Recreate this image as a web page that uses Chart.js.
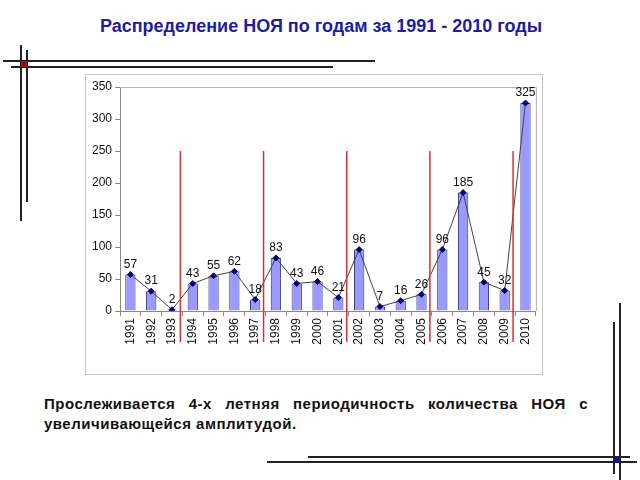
<!DOCTYPE html>
<html>
<head>
<meta charset="utf-8">
<script src="https://cdn.jsdelivr.net/npm/chart.js@4"></script>
<style>
  body { margin: 0; width: 640px; height: 480px; background: #fff; position: relative; overflow: hidden; font-family: "Liberation Sans", Arial, sans-serif; }
  .title { position: absolute; left: 0; width: 642px; top: 16px; text-align: center; font-weight: bold; font-size: 18px; color: #1c1ca4; }
  .box { position: absolute; left: 85px; top: 74px; width: 456px; height: 299px; border: 1px solid #c4c4c4; }
  .note { position: absolute; left: 44px; top: 394px; width: 544px; font-weight: bold; font-size: 15px; letter-spacing: 0.5px; line-height: 20px; color: #111; text-align: justify; text-align-last: left; }
  .ln { position: absolute; background: #222; }
</style>
</head>
<body>
<div class="title">Распределение НОЯ по годам за 1991 - 2010 годы</div>

<!-- decorative lines, top left -->
<div class="ln" style="left:3px;top:60px;width:372px;height:2px"></div>
<div class="ln" style="left:11px;top:66px;width:322px;height:2px"></div>
<div class="ln" style="left:20px;top:45px;width:2px;height:176px"></div>
<div class="ln" style="left:26px;top:50px;width:2px;height:152px"></div>
<div class="ln" style="left:21px;top:61px;width:6px;height:6px;background:#9b1010"></div>

<!-- decorative lines, bottom right -->
<div class="ln" style="left:308px;top:456px;width:322px;height:2px"></div>
<div class="ln" style="left:267px;top:461px;width:370px;height:2px"></div>
<div class="ln" style="left:613px;top:322px;width:2px;height:152px"></div>
<div class="ln" style="left:619px;top:303px;width:2px;height:177px"></div>
<div class="ln" style="left:614px;top:457px;width:6px;height:6px;background:#1010a0"></div>

<div class="box"><canvas id="chart" width="456" height="299"></canvas></div>

<div class="note">Прослеживается 4-х летняя периодичность количества НОЯ с увеличивающейся амплитудой.</div>

<script>
const years = ["1991", "1992", "1993", "1994", "1995", "1996", "1997", "1998", "1999", "2000",
  "2001", "2002", "2003", "2004", "2005", "2006", "2007", "2008", "2009", "2010"];
const counts = [57, 31, 2, 43, 55, 62, 18, 83, 43, 46, 21, 96, 7, 16, 26, 96, 185, 45, 32, 325];
const yTicks = [0, 50, 100, 150, 200, 250, 300, 350];
// red separators go after these years, up to this value
const periodEnds = ["1993", "1997", "2001", "2005", "2009"];
const periodTop = 250;

const FONT = "'Liberation Sans', Arial, sans-serif";

// frame round plot area + red period lines
const framePlugin = {
  id: "frame",
  afterDatasetsDraw(chart) {
    const ctx = chart.ctx;
    const a = chart.chartArea;
    const x = chart.scales.x;
    const y = chart.scales.y;
    ctx.save();
    ctx.strokeStyle = "#b0b0b0";
    ctx.lineWidth = 1;
    ctx.beginPath();
    ctx.moveTo(a.left, a.top + 0.5);
    ctx.lineTo(a.right + 0.5, a.top + 0.5);
    ctx.lineTo(a.right + 0.5, a.bottom);
    ctx.stroke();

    ctx.strokeStyle = "#d83030";
    ctx.lineWidth = 1.5;
    periodEnds.forEach((yr) => {
      const i = years.indexOf(yr);
      const px = (x.getPixelForValue(i) + x.getPixelForValue(i + 1)) / 2 - 2;
      ctx.beginPath();
      ctx.moveTo(px, y.getPixelForValue(periodTop));
      ctx.lineTo(px, a.bottom + 31);
      ctx.stroke();
    });
    ctx.restore();
  },
};

// value labels above line points
const labelPlugin = {
  id: "valueLabels",
  afterDatasetsDraw(chart) {
    const ctx = chart.ctx;
    const meta = chart.getDatasetMeta(1);
    ctx.save();
    ctx.font = "12px " + FONT;
    ctx.fillStyle = "#111";
    ctx.textAlign = "center";
    ctx.textBaseline = "bottom";
    meta.data.forEach((pt, i) => {
      ctx.fillText(String(counts[i]), pt.x, pt.y - 4);
    });
    ctx.restore();
  },
};

new Chart(document.getElementById("chart"), {
  data: {
    labels: years,
    datasets: [
      {
        type: "bar",
        data: counts,
        backgroundColor: "#9999ff",
        borderColor: "#3a3a78",
        borderWidth: 1,
        barPercentage: 0.9,
        categoryPercentage: 0.55,
        order: 2,
      },
      {
        type: "line",
        data: counts,
        borderColor: "#444",
        borderWidth: 1,
        pointStyle: "rectRot",
        pointRadius: 3,
        pointBackgroundColor: "#000080",
        pointBorderColor: "#000080",
        tension: 0,
        order: 1,
      },
    ],
  },
  options: {
    responsive: false,
    animation: false,
    devicePixelRatio: 1,
    layout: { padding: { top: 12, right: 5, left: 0, bottom: 0 } },
    plugins: { legend: { display: false }, tooltip: { enabled: false } },
    scales: {
      x: {
        offset: true,
        afterFit: (s) => { s.height = 63; },
        grid: { offset: true, drawOnChartArea: false, tickLength: 5, color: "#888" },
        border: { color: "#888" },
        ticks: {
          maxRotation: 90,
          minRotation: 90,
          autoSkip: false,
          padding: 2,
          color: "#111",
          font: { size: 12, family: FONT },
        },
      },
      y: {
        min: 0,
        max: 350,
        afterFit: (s) => { s.width = 34; },
        afterBuildTicks: (s) => { s.ticks = yTicks.map((v) => ({ value: v })); },
        grid: { drawOnChartArea: false, tickLength: 5, color: "#888" },
        border: { color: "#888" },
        ticks: {
          padding: 3,
          color: "#111",
          font: { size: 12, family: FONT },
        },
      },
    },
  },
  plugins: [framePlugin, labelPlugin],
});
</script>
</body>
</html>
